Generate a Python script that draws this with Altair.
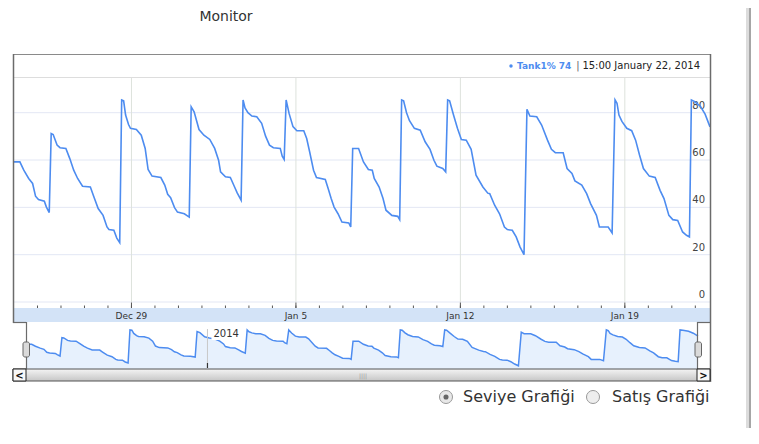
import altair as alt
import pandas as pd

# ---------------- data ----------------
hours = [0, 6, 10, 15, 19, 22, 25, 31, 33, 36,
         38, 40, 44, 47, 53, 57, 61, 65, 70, 78,
         81, 86, 91, 95, 97, 102, 105, 108, 110, 112,
         114, 117, 119, 125, 130, 134, 137, 141, 150, 154,
         157, 160, 164, 167, 174, 179, 181, 184, 189, 194,
         200, 205, 209, 211, 216, 221, 225, 228, 232, 234,
         236, 239, 243, 248, 253, 257, 261, 265, 272, 274,
         276, 278, 281, 285, 289, 296, 299, 302, 306, 309,
         318, 321, 324, 327, 331, 335, 342, 344, 346, 352,
         357, 362, 366, 368, 373, 377, 380, 386, 392, 394,
         396, 398, 401, 404, 409, 415, 420, 425, 429, 432,
         438, 441, 443, 445, 449, 453, 457, 462, 467, 472,
         479, 484, 486, 491, 496, 501, 504, 509, 513, 517,
         521, 524, 527, 534, 539, 545, 549, 553, 561, 565,
         570, 573, 580, 585, 589, 595, 598, 607, 611, 614,
         616, 618, 621, 626, 631, 635, 639, 643, 649, 655,
         660, 664, 669, 673, 678, 683, 687, 690, 692, 695,
         701, 706, 711]
level = [59.2, 59.2, 55.7, 52.2, 50.1, 44.7, 43.3, 42.6, 40.2, 37.8,
         71.2, 70.8, 66.3, 65.2, 64.9, 60.6, 55.7, 52.2, 48.9, 48.6,
         45.1, 39.5, 36.6, 31.7, 30.6, 30.3, 27.0, 25.1, 85.4, 85.0,
         79.0, 75.0, 73.4, 72.9, 70.5, 64.9, 56.0, 53.2, 52.6, 49.4,
         45.5, 44.1, 39.9, 38.0, 37.3, 35.9, 82.5, 80.4, 72.9, 70.5,
         68.7, 64.9, 59.9, 55.0, 52.9, 52.6, 48.9, 46.1, 43.0, 85.4,
         82.0, 80.0, 78.6, 78.3, 75.5, 70.1, 66.3, 65.2, 64.9, 61.6,
         60.2, 85.4, 79.7, 74.1, 72.4, 72.4, 69.1, 63.5, 55.7, 52.6,
         51.8, 47.9, 43.7, 40.1, 37.3, 33.8, 33.4, 31.7, 64.9, 64.9,
         59.2, 56.0, 55.7, 52.2, 48.6, 43.7, 38.8, 36.6, 36.2, 34.8,
         85.4, 85.0, 80.0, 76.6, 73.4, 72.6, 67.7, 64.5, 59.9, 57.4,
         56.4, 55.0, 85.4, 85.0, 79.0, 73.4, 68.7, 68.4, 64.5, 53.6,
         48.6, 46.0, 45.8, 40.9, 37.3, 31.7, 30.6, 30.3, 27.5, 23.2,
         20.0, 81.4, 78.6, 78.3, 74.8, 68.4, 64.5, 63.1, 63.1, 56.4,
         54.3, 51.2, 49.4, 45.8, 41.6, 36.6, 31.7, 31.7, 29.2, 85.4,
         84.0, 79.0, 76.3, 73.4, 72.4, 68.4, 62.1, 56.4, 53.2, 52.6,
         47.2, 43.7, 36.6, 34.8, 34.5, 29.6, 28.2, 27.5, 85.4, 84.8,
         82.8, 79.4, 74.0]

y_ticks = [0, 20, 40, 60, 80]
week_dates = ["2013-12-29", "2014-01-05", "2014-01-12", "2014-01-19"]
week_labels = ["Dec 29", "Jan 5", "Jan 12", "Jan 19"]
year_dates = ["2014-01-01"]
year_labels = ["2014"]
series_name = "Tank1%"
stamp_text = "15:00 January 22, 2014"
radio_labels = ["Seviye Grafiği", "Satış Grafiği"]

START = pd.Timestamp("2013-12-24 00:00")
df = pd.DataFrame({
    "time": (START + pd.to_timedelta(hours, unit="h")).strftime("%Y-%m-%dT%H:%M:%S"),
    "level": level,
})
gdf = pd.DataFrame({"tick": y_ticks})
wdf = pd.DataFrame({"date": [d + "T00:00:00" for d in week_dates], "label": week_labels})
ddf = pd.DataFrame({"date": pd.date_range("2013-12-25", "2014-01-22", freq="D").strftime("%Y-%m-%dT%H:%M:%S")})
ydf = pd.DataFrame({"date": [d + "T00:00:00" for d in year_dates], "label": year_labels})
dummy = pd.DataFrame({"d": [0]})

# ---------------- styling / layout ----------------
FONT = "DejaVu Sans"
BLUE = "#4d8cf0"
P = 8  # page margin


def V(v):
    return alt.value(v - P)


x_dom = [alt.DateTime(year=2013, month=12, date=24, hours=0),
         alt.DateTime(year=2014, month=1, date=22, hours=15)]
x_main = alt.Scale(domain=x_dom, range=[14 - P, 710 - P])
y_main = alt.Scale(domain=[0, 80], range=[302 - P, 112.7 - P])
x_nav = alt.Scale(domain=x_dom, range=[26 - P, 698 - P])
y_nav = alt.Scale(domain=[16, 98], range=[368 - P, 323 - P])


def rect(x1, y1, x2, y2, **kw):
    return alt.Chart(dummy).mark_rect(**kw).encode(x=V(x1), x2=V(x2), y=V(y1), y2=V(y2))


def rule(x1, y1, x2, y2, **kw):
    return alt.Chart(dummy).mark_rule(**kw).encode(x=V(x1), x2=V(x2), y=V(y1), y2=V(y2))


def label(x, y, s, **kw):
    kw.setdefault("baseline", "middle")
    return alt.Chart(dummy).mark_text(text=s, font=FONT, **kw).encode(x=V(x), y=V(y))


def dot(x, y, **kw):
    return alt.Chart(dummy).mark_point(**kw).encode(x=V(x), y=V(y))


layers = []
# right page shadow (only the part that fits in the page)
layers.append(rect(746, 0, 749, 440, color="#dcdcdc"))
layers.append(rect(749, 0, 751, 440, color="#a6a6a6"))

# x label band
layers.append(rect(14, 308, 710, 322, color="#d3e3f7"))

# horizontal gridlines + labels
layers.append(alt.Chart(gdf).mark_rule(color="#e3e7f4", strokeWidth=1).encode(
    y=alt.Y("tick:Q", scale=y_main, axis=None), x=V(14), x2=V(710)))
layers.append(alt.Chart(gdf).mark_text(align="right", baseline="middle", dy=-7, fontSize=10,
                                       font=FONT, color="#444").encode(
    y=alt.Y("tick:Q", scale=y_main, axis=None), x=V(705), text="tick:Q"))

# weekly vertical gridlines, ticks and labels
layers.append(alt.Chart(wdf).mark_rule(color="#dde2dc", strokeWidth=1).encode(
    x=alt.X("date:T", scale=x_main, axis=None), y=V(78), y2=V(302)))
layers.append(alt.Chart(wdf).mark_rule(color="#555", strokeWidth=1).encode(
    x=alt.X("date:T", scale=x_main, axis=None), y=V(302.5), y2=V(308)))
layers.append(alt.Chart(ddf).mark_rule(color="#555", strokeWidth=1).encode(
    x=alt.X("date:T", scale=x_main, axis=None), y=V(305.5), y2=V(308)))
layers.append(alt.Chart(wdf).mark_text(fontSize=9, font=FONT, color="#333", baseline="middle").encode(
    x=alt.X("date:T", scale=x_main, axis=None), y=V(315.5), text="label:N"))

# legend separator
layers.append(rule(14, 77.5, 710, 77.5, color="#dddddd", strokeWidth=1))

# navigator
layers.append(alt.Chart(df).mark_area(color="#e7f1fd", opacity=1).encode(
    x=alt.X("time:T", scale=x_nav, axis=None), y=alt.Y("level:Q", scale=y_nav, axis=None), y2=V(368)))
layers.append(alt.Chart(df).mark_line(color=BLUE, strokeWidth=1.5).encode(
    x=alt.X("time:T", scale=x_nav, axis=None), y=alt.Y("level:Q", scale=y_nav, axis=None)))
layers.append(alt.Chart(ydf).mark_rule(color="#c8c8c8", strokeWidth=1).encode(
    x=alt.X("date:T", scale=x_nav, axis=None), y=V(329), y2=V(368)))
layers.append(alt.Chart(ydf).mark_rule(color="#333", strokeWidth=1.2).encode(
    x=alt.X("date:T", scale=x_nav, axis=None), y=V(363), y2=V(368)))
layers.append(alt.Chart(ydf).mark_rect(color="white", xOffset=4, x2Offset=36).encode(
    x=alt.X("date:T", scale=x_nav, axis=None), x2="date:T", y=V(328), y2=V(340)))
layers.append(alt.Chart(ydf).mark_text(align="left", dx=6, fontSize=10, font=FONT, color="#333",
                                       baseline="middle").encode(
    x=alt.X("date:T", scale=x_nav, axis=None), y=V(334), text="label:N"))

# main series
layers.append(alt.Chart(df).mark_line(color=BLUE, strokeWidth=1.6).encode(
    x=alt.X("time:T", scale=x_main, axis=None), y=alt.Y("level:Q", scale=y_main, axis=None)))

# frames
FR = "#6b6b6b"
layers.append(rule(13, 54.5, 710, 54.5, color="#8a8a8a", strokeWidth=1))
layers.append(rule(13.5, 54, 13.5, 323, color=FR, strokeWidth=1.5))
layers.append(rule(710.5, 54, 710.5, 382, color=FR, strokeWidth=1.5))
layers.append(rule(13, 322.5, 26, 322.5, color=FR, strokeWidth=1.2))
layers.append(rule(26.5, 322, 26.5, 369, color=FR, strokeWidth=1.2))
layers.append(rule(697, 322.5, 710, 322.5, color=FR, strokeWidth=1.2))
layers.append(rule(697.5, 322, 697.5, 369, color=FR, strokeWidth=1.2))

# scrollbar
layers.append(rect(13, 369, 710, 381,
                   color=alt.Gradient(gradient="linear", x1=0, y1=0, x2=0, y2=1,
                                      stops=[alt.GradientStop(color="#f4f4f4", offset=0),
                                             alt.GradientStop(color="#c6c6c6", offset=1)]),
                   stroke="#555", strokeWidth=1))
layers.append(rect(13, 369, 26, 381, color="#f8f8f8", stroke="#222", strokeWidth=1))
layers.append(rect(697, 369, 710, 381, color="#f8f8f8", stroke="#222", strokeWidth=1))
layers.append(label(19.5, 375.5, "<", fontSize=10, fontWeight="bold", color="#111", align="center"))
layers.append(label(703.5, 375.5, ">", fontSize=10, fontWeight="bold", color="#111", align="center"))
layers.append(label(363, 375.5, "||||", fontSize=6, color="#999", align="center"))

# navigator handles
layers.append(rect(23, 342, 29.5, 357, color="#dadada", stroke="#666", strokeWidth=1, cornerRadius=2))
layers.append(rect(695, 342, 701.5, 357, color="#dadada", stroke="#666", strokeWidth=1, cornerRadius=2))

# title and legend
layers.append(label(226, 21, "Monitor", fontSize=14, color="#333", align="center", baseline="alphabetic"))
layers.append(dot(511, 66, shape="circle", size=12, filled=True, color=BLUE, opacity=1))
layers.append(label(517, 66, f"{series_name} {level[-1]:.0f}", fontSize=9, fontWeight="bold",
                    color=BLUE, align="left"))
layers.append(label(578, 66, "|", fontSize=10, color="#666", align="center"))
layers.append(label(700, 66, stamp_text, fontSize=10, color="#222", align="right"))

# radio buttons
layers.append(dot(446, 397, shape="circle", size=170, filled=True, fill="#e8e8e8",
                  stroke="#9a9a9a", strokeWidth=1, opacity=1))
layers.append(dot(446, 397, shape="circle", size=26, filled=True, color="#666", opacity=1))
layers.append(label(463, 397, radio_labels[0], fontSize=16, color="#333", align="left"))
layers.append(dot(593, 397, shape="circle", size=170, filled=True, fill="#eeeeee",
                  stroke="#9a9a9a", strokeWidth=1, opacity=1))
layers.append(label(612, 397, radio_labels[1], fontSize=16, color="#333", align="left"))

chart = alt.layer(*layers).resolve_scale(x="independent", y="independent").properties(
    width=743, height=420, autosize=alt.AutoSizeParams(type="none"), padding=0,
    background="white").configure_view(strokeWidth=0)

chart.save("out.html", embed_options={"renderer": "svg", "actions": False})
